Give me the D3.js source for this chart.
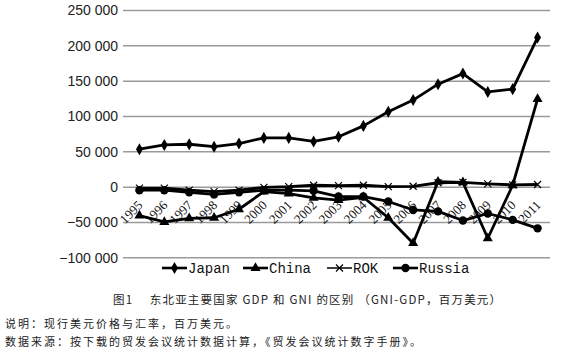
<!DOCTYPE html>
<html>
<head>
<meta charset="utf-8">
<script src="https://cdn.jsdelivr.net/npm/d3@7"></script>
<style>
  html, body { margin: 0; padding: 0; background: #fff; }
  svg { display: block; }
</style>
</head>
<body>
<svg id="chart" width="561" height="354"></svg>
<script>
const years = ["1995","1996","1997","1998","1999","2000","2001","2002","2003","2004","2005","2006","2007","2008","2009","2010","2011"];
const japan  = [53000, 59000, 60000, 56500, 61000, 69000, 69000, 64000, 70500, 86000, 106000, 122500, 145000, 160000, 134000, 138000, 211000];
const china  = [-41000, -50000, -45000, -44000, -32000, -7000, -10000, -16000, -19000, -15000, -44000, -80000, 7000, 6000, -73000, 2000, 124000];
const rok    = [-2000, -2000, -5000, -7000, -5000, -1000, 0, 2000, 1500, 2000, 0, 500, 5500, 6000, 4000, 2500, 3000];
const russia = [-5000, -5000, -8000, -11000, -8000, -5000, -5000, -6000, -14000, -14000, -21000, -33000, -35000, -48000, -38000, -47000, -59000];
const seriesNames = ["Japan", "China", "ROK", "Russia"];
const seriesMarkers = ["diamond", "triangle", "cross", "circle"];
const yTicks = [250000, 200000, 150000, 100000, 50000, 0, -50000, -100000];
const captionText = "图1　 东北亚主要国家 GDP 和 GNI 的区别 （GNI-GDP，百万美元）";
const noteText = "说明：现行美元价格与汇率，百万美元。";
const sourceText = "数据来源：按下载的贸发会议统计数据计算，《贸发会议统计数字手册》。";

const seriesData = [japan, china, rok, russia];

const svg = d3.select("#chart");
const x = d3.scaleBand().domain(years).range([127, 550]);
const y = d3.scaleLinear().domain([-100000, 250000]).range([257.3, 10]);
const cx = d => x(d) + x.bandwidth() / 2;

// grid + y axis
const yAxis = d3.axisLeft(y).tickValues(yTicks).tickSize(-423).tickPadding(9)
  .tickFormat(d => {
    const s = d3.format(",")(Math.abs(d)).replace(/,/g, " ");
    return (d < 0 ? "\u2212" : "") + s;
  });
const gy = svg.append("g").attr("transform", "translate(127,0)").call(yAxis);
gy.select(".domain").remove();
gy.selectAll(".tick line").attr("stroke", "#9a9a9a").attr("stroke-width", 1.5).attr("x1", -4);
gy.selectAll(".tick text").attr("font-family", "'Liberation Sans', Arial, sans-serif")
  .attr("font-size", 14).attr("fill", "#222").attr("dy", "0.35em").attr("x", -9);

// x labels
svg.append("g").selectAll("text").data(years).join("text")
  .attr("transform", d => `translate(${cx(d) + 4},206) rotate(-45)`)
  .attr("text-anchor", "end")
  .attr("font-family", "'Liberation Serif', 'Times New Roman', serif")
  .attr("font-size", 13).attr("fill", "#111")
  .text(d => d);

// marker shapes
function drawMarker(g, type, px, py) {
  if (type === "diamond") {
    g.append("path").attr("d", d3.symbol(d3.symbolDiamond, 42)()).attr("transform", `translate(${px},${py})`).attr("fill", "#000");
  } else if (type === "triangle") {
    g.append("path").attr("d", d3.symbol(d3.symbolTriangle, 44)()).attr("transform", `translate(${px},${py})`).attr("fill", "#000");
  } else if (type === "cross") {
    const r = 3.5;
    g.append("path").attr("d", `M${px - r},${py - r}L${px + r},${py + r}M${px - r},${py + r}L${px + r},${py - r}`)
      .attr("stroke", "#000").attr("stroke-width", 1.2).attr("fill", "none");
  } else {
    g.append("circle").attr("cx", px).attr("cy", py).attr("r", 4.2).attr("fill", "#000");
  }
}

const line = d3.line().x((d, i) => cx(years[i])).y(d => y(d));
const plot = svg.append("g");
seriesData.forEach((vals) => {
  plot.append("path").datum(vals).attr("d", line)
    .attr("fill", "none").attr("stroke", "#000").attr("stroke-width", 2.8).attr("stroke-linejoin", "round");
});
seriesData.forEach((vals, k) => {
  const g = plot.append("g");
  vals.forEach((v, i) => drawMarker(g, seriesMarkers[k], cx(years[i]), y(v)));
});

// legend
const legendX = [162, 243, 327, 393];
const legendY = 268;
const lg = svg.append("g");
seriesNames.forEach((name, k) => {
  const x0 = legendX[k];
  lg.append("line").attr("x1", x0).attr("x2", x0 + 25).attr("y1", legendY).attr("y2", legendY)
    .attr("stroke", "#000").attr("stroke-width", k === 2 ? 1.5 : 2.6);
  drawMarker(lg, seriesMarkers[k], x0 + 12.5, legendY);
  lg.append("text").attr("x", x0 + 26).attr("y", legendY + 5)
    .attr("font-family", "'Liberation Mono', 'DejaVu Sans Mono', monospace")
    .attr("font-size", 14).attr("fill", "#111").text(name);
});

// caption & notes
const cjk = "'Noto Sans CJK SC', 'Liberation Serif', serif";
svg.append("text").attr("x", 113).attr("y", 304).attr("font-family", cjk)
  .attr("font-size", 11.5).attr("letter-spacing", 1.2).attr("fill", "#222").text(captionText);
svg.append("text").attr("x", 5).attr("y", 328).attr("font-family", cjk)
  .attr("font-size", 11).attr("letter-spacing", 2).attr("fill", "#222").text(noteText);
svg.append("text").attr("x", 5).attr("y", 346).attr("font-family", cjk)
  .attr("font-size", 11).attr("letter-spacing", 2).attr("fill", "#222").text(sourceText);
</script>
</body>
</html>
